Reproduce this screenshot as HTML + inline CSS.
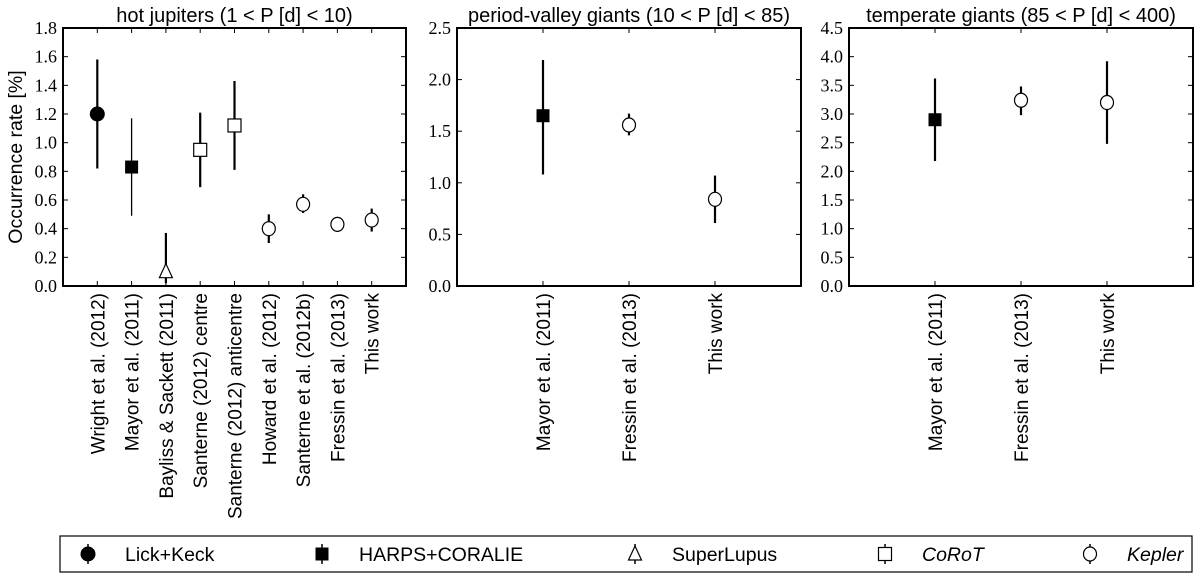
<!DOCTYPE html>
<html><head><meta charset="utf-8"><style>
body{margin:0;background:#fff;width:1200px;height:577px;overflow:hidden}
svg{display:block}
.tick{font-family:"Liberation Serif",serif;font-size:18px}
.ttl{font-family:"Liberation Sans",sans-serif;font-size:20px}
.ylab{font-family:"Liberation Sans",sans-serif;font-size:19.5px}
.cat{font-family:"Liberation Sans",sans-serif;font-size:19px}
.leg{font-family:"Liberation Sans",sans-serif;font-size:19.5px}
</style></head><body>
<svg id="chart" width="1200" height="577"></svg>
<script>
const p1Cats=["Wright et al. (2012)","Mayor et al. (2011)","Bayliss & Sackett (2011)","Santerne (2012) centre","Santerne (2012) anticentre","Howard et al. (2012)","Santerne et al. (2012b)","Fressin et al. (2013)","This work"];
const p1Vals=[1.20,0.83,0.10,0.95,1.12,0.40,0.57,0.43,0.46];
const p1Lo=[0.82,0.49,0.02,0.69,0.81,0.30,0.51,0.40,0.38];
const p1Hi=[1.58,1.17,0.37,1.21,1.43,0.50,0.64,0.46,0.54];
const p1Mk=["circleF","squareF","tri","square","square","circle","circle","circle","circle"];
const p2Cats=["Mayor et al. (2011)","Fressin et al. (2013)","This work"];
const p2Vals=[1.65,1.56,0.84];
const p2Lo=[1.08,1.46,0.61];
const p2Hi=[2.19,1.67,1.07];
const p2Mk=["squareF","circle","circle"];
const p3Cats=["Mayor et al. (2011)","Fressin et al. (2013)","This work"];
const p3Vals=[2.90,3.24,3.20];
const p3Lo=[2.18,2.98,2.48];
const p3Hi=[3.62,3.48,3.92];
const p3Mk=["squareF","circle","circle"];
const p1Ticks=[0,0.2,0.4,0.6,0.8,1.0,1.2,1.4,1.6,1.8];
const p2Ticks=[0,0.5,1.0,1.5,2.0,2.5];
const p3Ticks=[0,0.5,1.0,1.5,2.0,2.5,3.0,3.5,4.0,4.5];
const legLabels=["Lick+Keck","HARPS+CORALIE","SuperLupus","CoRoT","Kepler"];
const legMk=["circleF","squareF","tri","square","circle"];

const svg=document.getElementById('chart');
const NS="http://www.w3.org/2000/svg";
function mk(t,a,parent){const e=document.createElementNS(NS,t);for(const k in a)e.setAttribute(k,a[k]);(parent||svg).appendChild(e);return e;}
function marker(g,type,x,y){
  let e;
  if(type==="circleF")e=mk('circle',{cx:x,cy:y,r:7,fill:'#000',stroke:'#000'},g);
  else if(type==="circle")e=mk('ellipse',{cx:x,cy:y,rx:6.5,ry:7,fill:'#fff',stroke:'#000','stroke-width':1.2},g);
  else if(type==="squareF")e=mk('rect',{x:x-6.5,y:y-6.5,width:13,height:13,fill:'#000'},g);
  else if(type==="square")e=mk('rect',{x:x-6.5,y:y-6.5,width:13,height:13,fill:'#fff',stroke:'#000','stroke-width':1.2},g);
  else e=mk('polygon',{points:`${x},${y-8} ${x-6.5},${y+6} ${x+6.5},${y+6}`,fill:'#fff',stroke:'#000','stroke-width':1.2},g);
  return e;
}
function panel(name,L,R,ymax,nx,cats,vals,lo,hi,mks,ticks,title,fmt){
  const T=28,B=286;
  const g=mk('g',{});
  
  
  const xs=i=>L+(i+1)*(R-L)/nx;
  const ys=v=>B-(v/ymax)*(B-T);
  ticks.forEach(t=>{
    const y=ys(t);
    mk('line',{x1:L,x2:L+5,y1:y,y2:y,stroke:'#000'},g);
    mk('line',{x1:R-5,x2:R,y1:y,y2:y,stroke:'#000'},g);
    const tx=mk('text',{x:L-6,y:y+6,'text-anchor':'end',class:'tick'},g);tx.textContent=t.toFixed(fmt);
    
    
  });
  cats.forEach((c,i)=>{
    const x=xs(i);
    mk('line',{x1:x,x2:x,y1:B-5,y2:B,stroke:'#000'},g);
    mk('line',{x1:x,x2:x,y1:T,y2:T+5,stroke:'#000'},g);
    const tx=mk('text',{x:0,y:0,transform:`translate(${x+7},${B+7}) rotate(-90)`,'text-anchor':'end',class:'cat'},g);
    tx.textContent=c;
    
    
    const el=mk('line',{x1:x,x2:x,y1:ys(lo[i]),y2:ys(hi[i]),stroke:'#000','stroke-width':(name==='hot-jupiters-panel'&&i===1)?1.3:2.2},g);
    
    
    const m=marker(g,mks[i],x,ys(vals[i]));
    
    
  });
  const fr=mk('rect',{x:L,y:T,width:R-L,height:B-T,fill:'none',stroke:'#000','stroke-width':2},g);
  
  
  const tt=mk('text',{x:(L+R)/2,y:22,'text-anchor':'middle',class:'ttl'},g);tt.textContent=title;
  
  
}
panel('hot-jupiters-panel',63,406,1.8,10,p1Cats,p1Vals,p1Lo,p1Hi,p1Mk,p1Ticks,'hot jupiters (1 < P [d] < 10)',1);
panel('period-valley-panel',457,801,2.5,4,p2Cats,p2Vals,p2Lo,p2Hi,p2Mk,p2Ticks,'period-valley giants (10 < P [d] < 85)',1);
panel('temperate-giants-panel',849,1193,4.5,4,p3Cats,p3Vals,p3Lo,p3Hi,p3Mk,p3Ticks,'temperate giants (85 < P [d] < 400)',1);
const yl=mk('text',{x:0,y:0,transform:'translate(22,157) rotate(-90)','text-anchor':'middle',class:'ylab'});
yl.textContent='Occurrence rate [%]';


const lg=mk('g',{});


mk('rect',{x:60,y:536,width:1132,height:36,fill:'#fff',stroke:'#000','stroke-width':1.2},lg);
const legMX=[88,322,635,885,1090];
legLabels.forEach((l,i)=>{
  const x=legMX[i],y=554;
  mk('line',{x1:x,x2:x,y1:y-10,y2:y+10,stroke:'#000','stroke-width':1.5},lg);
  marker(lg,legMk[i],x,y);
  const t=mk('text',{x:x+37,y:y+7,class:'leg'},lg);
  t.textContent=l;
  if(i>=3){t.setAttribute('font-family','Liberation Serif, serif');t.setAttribute('font-style','italic');}
  
  
});
</script>
</body></html>
